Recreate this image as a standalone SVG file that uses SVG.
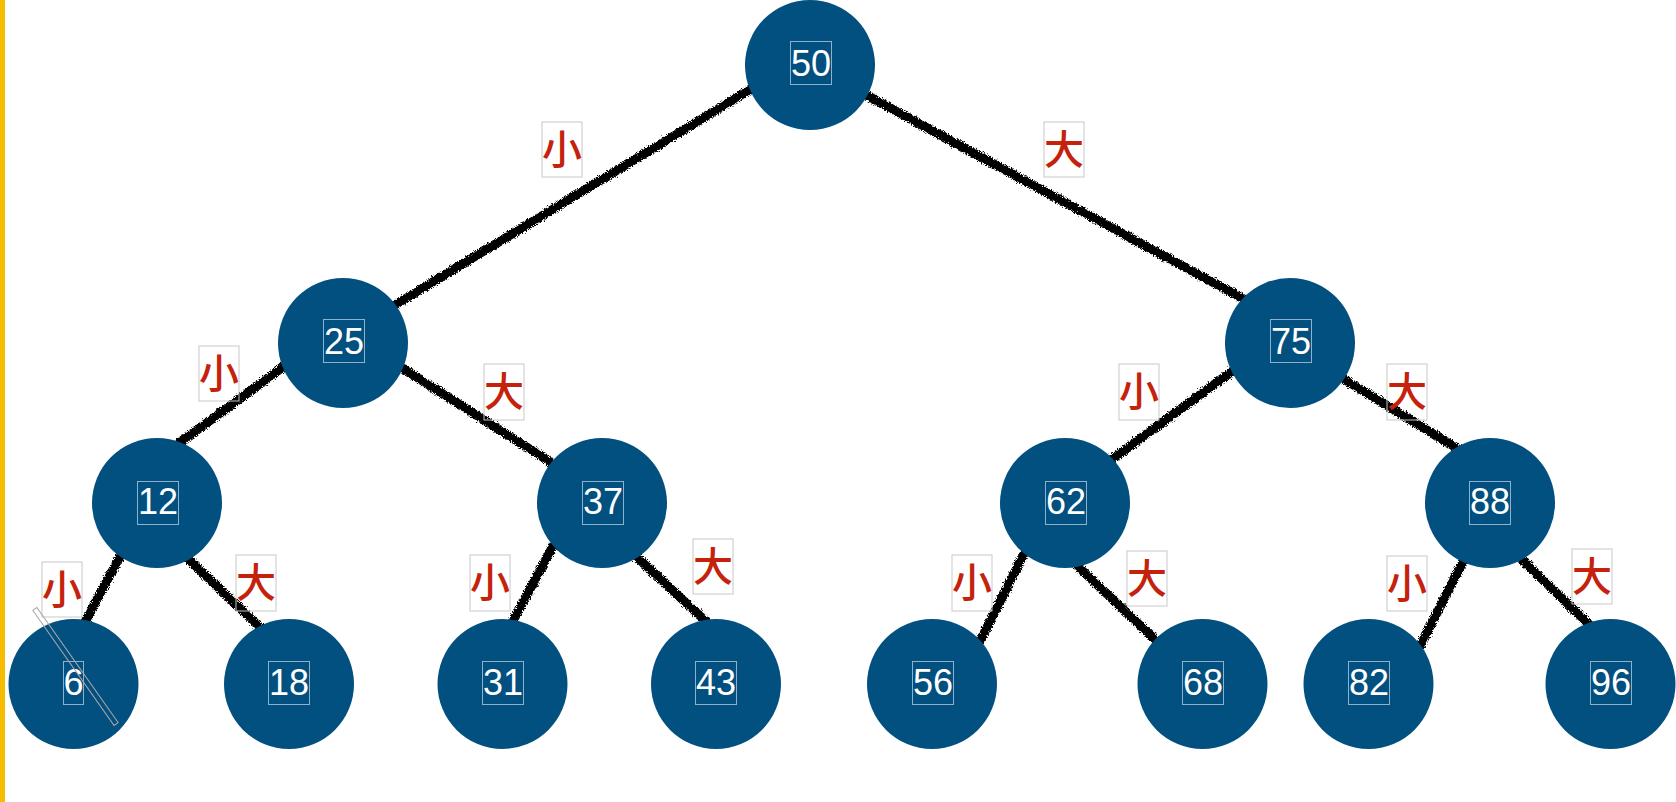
<svg xmlns="http://www.w3.org/2000/svg" width="1676" height="802" viewBox="0 0 1676 802">
<style>
.node circle{fill:#02507f}
.num{font-family:"Liberation Sans",Arial,sans-serif;font-size:36px;fill:#ffffff;text-anchor:middle}
.nbox{fill:none;stroke:#8fb2cc;stroke-width:1}
.lbl{font-family:"Noto Sans CJK SC","Noto Sans",sans-serif;font-size:40px;font-weight:500;fill:#c4220c;text-anchor:middle}
.lbox{fill:none;stroke:#c8c8c8;stroke-width:1}
.edge{stroke:#000;stroke-width:9;stroke-linecap:butt;fill:none}
</style>
<defs>
<filter id="rough" filterUnits="userSpaceOnUse" x="0" y="0" width="1676" height="802">
<feTurbulence type="fractalNoise" baseFrequency="1.2" numOctaves="2" seed="5" result="n"/>
<feDisplacementMap in="SourceGraphic" in2="n" scale="6" xChannelSelector="R" yChannelSelector="G"/>
</filter>
</defs>
<rect x="0" y="0" width="1676" height="802" fill="#ffffff"/>
<rect x="0" y="0" width="5" height="802" fill="#f6bd00"/>
<g id="connectors" filter="url(#rough)">
<line class="edge" x1="761" y1="83" x2="385" y2="311"/>
<line class="edge" x1="857" y1="90" x2="1264" y2="310"/>
<line class="edge" x1="294" y1="359" x2="171" y2="449"/>
<line class="edge" x1="391" y1="361" x2="563" y2="470"/>
<line class="edge" x1="1242" y1="364" x2="1103" y2="466"/>
<line class="edge" x1="1332" y1="372" x2="1468" y2="455"/>
<line class="edge" x1="125" y1="547" x2="80" y2="631"/>
<line class="edge" x1="181" y1="552" x2="268" y2="635"/>
<line class="edge" x1="559" y1="535" x2="508" y2="630"/>
<line class="edge" x1="627" y1="548" x2="713" y2="628"/>
<line class="edge" x1="1030" y1="542" x2="975" y2="651"/>
<line class="edge" x1="1069" y1="558" x2="1164" y2="648"/>
<line class="edge" x1="1469" y1="550" x2="1415" y2="656"/>
<line class="edge" x1="1514" y1="552" x2="1596" y2="631"/>
</g>
<g id="labels">
<rect class="lbox" x="542" y="122" width="40" height="55"/><text class="lbl" x="562" y="164">小</text>
<rect class="lbox" x="1044" y="122" width="40" height="55"/><text class="lbl" x="1064" y="164">大</text>
<rect class="lbox" x="199" y="346" width="40" height="55"/><text class="lbl" x="219" y="388">小</text>
<rect class="lbox" x="484" y="364" width="40" height="56"/><text class="lbl" x="504" y="406">大</text>
<rect class="lbox" x="1119" y="364" width="40" height="56"/><text class="lbl" x="1139" y="406">小</text>
<rect class="lbox" x="1387" y="364" width="40" height="56"/><text class="lbl" x="1407" y="406">大</text>
<rect class="lbox" x="42" y="562" width="40" height="55"/><text class="lbl" x="62" y="604">小</text>
<rect class="lbox" x="236" y="555" width="40" height="56"/><text class="lbl" x="256" y="597">大</text>
<rect class="lbox" x="470" y="555" width="40" height="56"/><text class="lbl" x="490" y="597">小</text>
<rect class="lbox" x="693" y="539" width="40" height="55"/><text class="lbl" x="713" y="581">大</text>
<rect class="lbox" x="952" y="555" width="40" height="56"/><text class="lbl" x="972" y="597">小</text>
<rect class="lbox" x="1127" y="551" width="40" height="55"/><text class="lbl" x="1147" y="593">大</text>
<rect class="lbox" x="1387" y="556" width="40" height="55"/><text class="lbl" x="1407" y="598">小</text>
<rect class="lbox" x="1572" y="549" width="40" height="55"/><text class="lbl" x="1592" y="591">大</text>
</g>
<g id="n50" class="node"><circle cx="810" cy="65" r="65"/><rect class="nbox" x="790.5" y="41.5" width="41" height="43"/><text class="num" x="811" y="76">50</text></g>
<g id="n25" class="node"><circle cx="343" cy="343" r="65"/><rect class="nbox" x="323.5" y="319.5" width="41" height="43"/><text class="num" x="344" y="354">25</text></g>
<g id="n75" class="node"><circle cx="1290" cy="343" r="65"/><rect class="nbox" x="1270.5" y="319.5" width="41" height="43"/><text class="num" x="1291" y="354">75</text></g>
<g id="n12" class="node"><circle cx="157" cy="503" r="65"/><rect class="nbox" x="137.5" y="481.5" width="41" height="43"/><text class="num" x="158" y="514">12</text></g>
<g id="n37" class="node"><circle cx="602" cy="503" r="65"/><rect class="nbox" x="582.5" y="481.5" width="41" height="43"/><text class="num" x="603" y="514">37</text></g>
<g id="n62" class="node"><circle cx="1065" cy="503" r="65"/><rect class="nbox" x="1045.5" y="481.5" width="41" height="43"/><text class="num" x="1066" y="514">62</text></g>
<g id="n88" class="node"><circle cx="1490" cy="503" r="65"/><rect class="nbox" x="1469.5" y="481.5" width="41" height="43"/><text class="num" x="1490" y="514">88</text></g>
<g id="n6" class="node"><circle cx="73.5" cy="684" r="65"/><rect class="nbox" x="63.5" y="661.5" width="20" height="43"/><text class="num" x="73.5" y="695">6</text></g>
<g id="n18" class="node"><circle cx="289" cy="684" r="65"/><rect class="nbox" x="268.5" y="661.5" width="41" height="43"/><text class="num" x="289" y="695">18</text></g>
<g id="n31" class="node"><circle cx="502.5" cy="684" r="65"/><rect class="nbox" x="482.5" y="661.5" width="41" height="43"/><text class="num" x="503" y="695">31</text></g>
<g id="n43" class="node"><circle cx="716" cy="684" r="65"/><rect class="nbox" x="695.5" y="661.5" width="41" height="43"/><text class="num" x="716" y="695">43</text></g>
<g id="n56" class="node"><circle cx="932" cy="684" r="65"/><rect class="nbox" x="912.5" y="661.5" width="41" height="43"/><text class="num" x="933" y="695">56</text></g>
<g id="n68" class="node"><circle cx="1202.5" cy="684" r="65"/><rect class="nbox" x="1182.5" y="661.5" width="41" height="43"/><text class="num" x="1203" y="695">68</text></g>
<g id="n82" class="node"><circle cx="1368.5" cy="684" r="65"/><rect class="nbox" x="1348.5" y="661.5" width="41" height="43"/><text class="num" x="1369" y="695">82</text></g>
<g id="n96" class="node"><circle cx="1610.5" cy="684" r="65"/><rect class="nbox" x="1590.5" y="661.5" width="41" height="43"/><text class="num" x="1611" y="695">96</text></g>
<rect x="-70.5" y="-2.5" width="141" height="5" fill="none" stroke="#a8a8a8" stroke-width="1" transform="translate(75.5 666.5) rotate(54.8)"/>
</svg>
